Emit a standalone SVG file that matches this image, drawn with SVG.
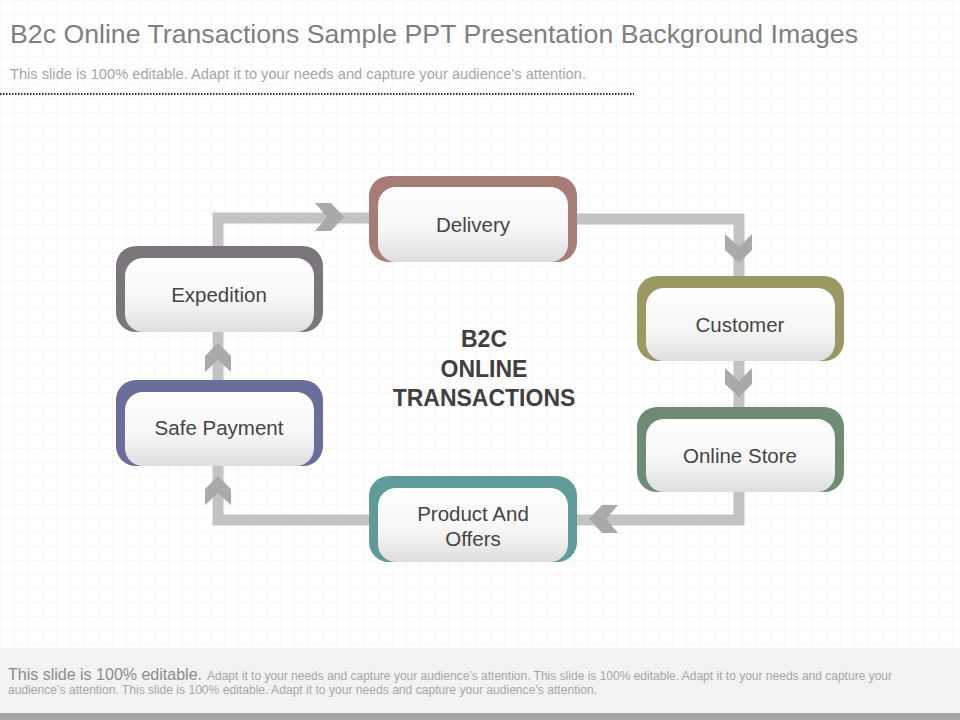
<svg xmlns="http://www.w3.org/2000/svg" width="960" height="720" viewBox="0 0 960 720">
<defs>
<pattern id="grid" width="14" height="14" patternUnits="userSpaceOnUse">
<path d="M14 0H0V14" fill="none" stroke="#f2f2f2" stroke-width="1"/>
</pattern>
<linearGradient id="inner" x1="0" y1="0" x2="0" y2="1">
<stop offset="0" stop-color="#ffffff"/>
<stop offset="0.55" stop-color="#f7f7f7"/>
<stop offset="1" stop-color="#dedede"/>
</linearGradient>
</defs>
<style>
.title{font-family:"Liberation Sans",Arial,sans-serif;font-size:26px;fill:#7f7f7f}
.sub{font-family:"Liberation Sans",Arial,sans-serif;font-size:14px;fill:#a6a6a6}
.foot1{font-family:"Liberation Sans",Arial,sans-serif;font-size:16px;fill:#8c8c8c}
.foot2{font-family:"Liberation Sans",Arial,sans-serif;font-size:12px;fill:#a6a6a6}
.lbl{font-family:"Liberation Sans",Arial,sans-serif;font-size:20.5px;fill:#444;text-anchor:middle}
.ctr{font-family:"Liberation Sans",Arial,sans-serif;font-size:23px;font-weight:bold;fill:#404040;text-anchor:middle}
.line{fill:none;stroke:#c3c3c3;stroke-width:11;stroke-linejoin:miter}
.chev{fill:#a9a9a9}
.inner{fill:url(#inner)}
</style>
<rect width="960" height="720" fill="#ffffff"/>
<rect x="0" y="0" width="960" height="648" fill="url(#grid)"/>
<text class="title" x="10" y="43" textLength="848" lengthAdjust="spacingAndGlyphs">B2c Online Transactions Sample PPT Presentation Background Images</text>
<text class="sub" x="10" y="79" textLength="576" lengthAdjust="spacingAndGlyphs">This slide is 100% editable.  Adapt it to your needs and capture your audience's attention.</text>
<line x1="0" y1="94" x2="634" y2="94" stroke="#333" stroke-width="2" stroke-dasharray="1.5,1.5"/>

<g id="connectors">
<polyline class="line" points="218,246 218,218 369,218"/>
<polygon class="chev" points="315,203 331,203 344,217 331,231 315,231 327,217"/>
<polyline class="line" points="577,219 739,219 739,276"/>
<polygon class="chev" points="725,234 739,247 752,234 752,250 739,263 725,250"/>
<line class="line" x1="739" y1="361" x2="739" y2="407"/>
<polygon class="chev" points="725,368 739,381 752,368 752,384 739,397 725,384"/>
<polyline class="line" points="739,492 739,520 577,520"/>
<polygon class="chev" points="618,505 602,505 589,519 602,533 618,533 606,519"/>
<polyline class="line" points="369,520 218,520 218,466"/>
<polygon class="chev" points="205,505 205,489 218,476 231,489 231,505 218,493"/>
<line class="line" x1="218" y1="380" x2="218" y2="332"/>
<polygon class="chev" points="205,372 205,356 218,343 231,356 231,372 218,360"/>
</g>

<g id="delivery">
<rect x="369" y="176" width="208" height="86" rx="20" fill="#a57d74"/>
<rect x="378" y="187" width="190" height="75" rx="18" class="inner"/>
<text class="lbl" x="473" y="232">Delivery</text>
</g>
<g id="expedition">
<rect x="116" y="246" width="207" height="86" rx="20" fill="#7a767b"/>
<rect x="125" y="258" width="189" height="74" rx="18" class="inner"/>
<text class="lbl" x="219" y="302">Expedition</text>
</g>
<g id="customer">
<rect x="637" y="276" width="207" height="85" rx="20" fill="#9a9863"/>
<rect x="646" y="288" width="189" height="73" rx="18" class="inner"/>
<text class="lbl" x="740" y="332">Customer</text>
</g>
<g id="safe-payment">
<rect x="116" y="380" width="207" height="86" rx="20" fill="#6a6e9b"/>
<rect x="125" y="392" width="189" height="74" rx="18" class="inner"/>
<text class="lbl" x="219" y="435">Safe Payment</text>
</g>
<g id="online-store">
<rect x="637" y="407" width="207" height="85" rx="20" fill="#6e8b74"/>
<rect x="646" y="419" width="189" height="73" rx="18" class="inner"/>
<text class="lbl" x="740" y="463">Online Store</text>
</g>
<g id="product-offers">
<rect x="369" y="476" width="208" height="86" rx="20" fill="#5f9c99"/>
<rect x="378" y="488" width="190" height="74" rx="18" class="inner"/>
<text class="lbl" x="473" y="521">Product And</text>
<text class="lbl" x="473" y="546">Offers</text>
</g>

<g id="center-title">
<text class="ctr" x="484" y="347">B2C</text>
<text class="ctr" x="484" y="377">ONLINE</text>
<text class="ctr" x="484" y="406">TRANSACTIONS</text>
</g>

<rect x="0" y="648" width="960" height="65" fill="#f2f2f2"/>
<rect x="0" y="713" width="960" height="7" fill="#a8a5a5"/>
<text class="foot1" x="8" y="680" textLength="194" lengthAdjust="spacingAndGlyphs">This slide is 100% editable.</text>
<text class="foot2" x="207" y="680" textLength="685" lengthAdjust="spacingAndGlyphs">Adapt it to your needs and capture your audience’s attention. This slide is 100% editable. Adapt it to your needs and capture your</text>
<text class="foot2" x="8" y="694" textLength="589" lengthAdjust="spacingAndGlyphs">audience’s attention. This slide is 100% editable. Adapt it to your needs and capture your audience’s attention.</text>
</svg>
